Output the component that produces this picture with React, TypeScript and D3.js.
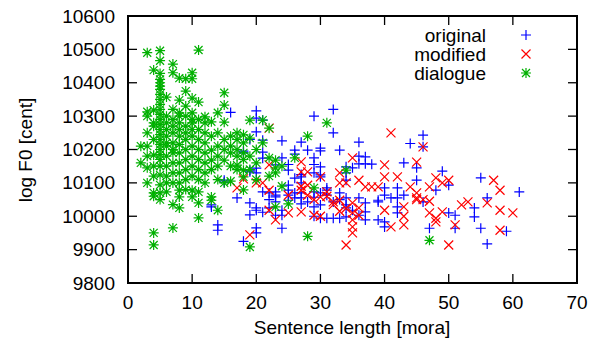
import React from "react";
import * as d3 from "d3";

const xTicks = [0, 10, 20, 30, 40, 50, 60, 70];
const yTicks = [9800, 9900, 10000, 10100, 10200, 10300, 10400, 10500, 10600];
const seriesNames = ["original", "modified", "dialogue"];

const original: [number, number][] = [
  [13,10028],[13,10034],[14,9974],[14,9958],[15,10102],[15,10108],[16,10311],
  [17,10055],[18,10190],[18,10195],[18,9925],
  [19,10230],[19,10133],[19,10138],[19,10004],[19,10040],
  [20,10316],[20,10294],[20,10253],[20,10144],[20,10130],[20,10018],[20,10025],[20,9965],[20,9950],
  [21,10288],[21,10228],[21,10192],[21,10174],[21,10073],[21,10012],
  [22,10025],[22,10070],[22,10050],
  [23,10154],[23,10063],[23,10043],[23,10058],[23,10073],[23,10003],
  [24,10226],[24,10175],[24,10018],[24,9964],[24,10003],
  [25,10155],[25,10138],[25,10078],[25,10063],[25,10093],[25,10048],
  [26,10198],[26,10186],[26,10114],[26,10070],[26,10055],
  [27,10222],[27,10118],[27,10100],[27,10070],[27,10055],[27,10037],[27,10125],
  [28,10198],[28,10043],
  [29,10300],[29,10175],[29,10155],[29,10130],[29,10057],[29,10028],[29,10000],[29,10073],
  [30,10204],[30,10196],[30,10148],[30,10118],[30,10124],[30,10034],[30,9994],[30,10070],
  [31,10078],[31,10063],[31,9994],[31,10085],
  [32,10320],[32,10250],[32,10043],[32,9994],
  [33,10198],[33,9994],[33,10070],[33,10050],
  [34,10148],[34,10130],[34,10108],[34,10055],[34,10034],[34,10025],[34,9998],
  [35,10145],[35,10018],
  [36,10222],[36,10180],[36,10055],[36,10003],[36,10157],
  [37,10178],[37,10040],[37,10013],[37,9989],[37,10157],
  [38,10156],
  [39,10043],[39,9989],[39,10048],
  [40,10085],[40,10063],[40,9983],[40,9968],
  [41,10055],
  [42,10085],[42,10055],[42,10028],[42,10010],
  [43,10160],[43,10063],
  [44,10218],
  [45,10145],[45,10108],
  [46,10243],[46,10043],[46,10208],
  [47,9964],[48,10078],[49,10135],
  [50,10093],[50,10010],
  [51,10003],[51,9964],
  [54,10025],[54,9998],
  [55,10115],[55,9964],
  [56,10055],[56,9917],
  [59,9955],[61,10073],
];

const modified: [number, number][] = [
  [17,10085],[18,10112],[19,9944],[20,10100],[21,10100],
  [22,10264],[22,10154],[22,10078],[22,10018],[23,9989],
  [25,10063],[25,10010],
  [27,10163],[27,10133],[27,10078],[27,10013],[27,10090],
  [28,10133],[28,10063],[28,10093],
  [29,10003],[29,10050],
  [30,10118],[30,10058],[30,10000],
  [31,10073],[31,10060],
  [32,10043],[32,10035],
  [33,10130],[33,10100],[33,10048],[33,10015],
  [34,10100],[34,9914],[34,10024],
  [35,10175],[35,9989],[35,9968],[35,9950],[35,10040],[35,10010],
  [36,10108],[36,10003],[36,10025],
  [37,10088],[38,10088],[39,10088],
  [40,10154],[40,10118],[40,10018],
  [41,10250],[41,9968],
  [42,10118],
  [43,9974],[43,10000],[43,10028],
  [44,10088],
  [45,10162],[45,10070],[45,10055],[45,10050],
  [46,10208],[46,10050],
  [47,10088],[47,10010],[47,10045],
  [48,10115],[48,9994],[48,9983],
  [49,10100],[49,10013],
  [50,10108],[50,9914],
  [51,9974],[52,10034],[53,10043],[56,10040],[57,10108],
  [58,10078],[58,10018],[58,9958],
  [60,10010],
];

const dialogue: [number, number][] = [
  [2,10160],[2,10210],
  [3,10490],[3,10313],[3,10300],[3,10210],[3,10145],[3,10250],[3,10180],[3,10100],
  [4,10438],[4,10318],[4,10183],[4,10070],[4,10060],[4,9950],[4,9914],[4,10230],[4,10270],[4,10120],[4,10280],[4,10150],
  [5,10496],[5,10466],[5,10428],[5,10410],[5,10400],[5,10390],[5,10380],[5,10365],[5,10350],[5,10335],[5,10320],[5,10305],[5,10290],[5,10275],[5,10260],[5,10245],[5,10230],[5,10215],[5,10200],[5,10185],[5,10170],[5,10150],[5,10124],[5,10094],[5,10070],[5,10050],
  [6,10357],[6,10300],[6,10280],[6,10260],[6,10240],[6,10220],[6,10210],[6,10180],[6,10150],[6,10120],[6,10100],[6,10073],
  [7,10456],[7,10430],[7,10320],[7,10290],[7,10270],[7,10250],[7,10220],[7,10200],[7,10190],[7,10160],[7,10130],[7,10100],[7,10035],[7,9965],
  [8,10414],[8,10348],[8,10310],[8,10300],[8,10280],[8,10260],[8,10240],[8,10215],[8,10190],[8,10160],[8,10130],[8,10100],[8,10078],[8,10058],[8,10025],
  [9,10412],[9,10375],[9,10330],[9,10300],[9,10270],[9,10250],[9,10230],[9,10200],[9,10170],[9,10140],[9,10110],[9,10080],
  [10,10430],[10,10412],[10,10354],[10,10310],[10,10290],[10,10280],[10,10260],[10,10240],[10,10210],[10,10180],[10,10150],[10,10120],[10,10078],[10,10058],
  [11,10498],[11,10342],[11,10290],[11,10260],[11,10230],[11,10200],[11,10170],[11,10140],[11,10110],[11,10073],[11,10040],[11,9995],
  [12,10298],[12,10280],[12,10250],[12,10220],[12,10190],[12,10160],[12,10130],[12,10100],
  [13,10283],[13,10240],[13,10198],[13,10168],[13,10140],[13,10058],[13,10048],
  [14,10310],[14,10250],[14,10210],[14,10180],[14,10150],[14,10110],[14,10018],
  [15,10370],[15,10333],[15,10282],[15,10230],[15,10200],[15,10168],[15,10100],
  [16,10240],[16,10210],[16,10190],[16,10150],[16,10105],
  [17,10250],[17,10230],[17,10200],[17,10180],[17,10153],[17,10140],
  [18,10244],[18,10220],[18,10190],[18,10170],[18,10138],[18,10118],[18,10079],
  [19,10288],[19,10234],[19,10180],[19,10140],[19,9908],
  [20,10200],[20,10160],[20,10110],
  [21,10288],[21,10220],
  [22,10264],[22,10175],[22,10120],
  [23,10168],[23,10145],[23,10130],[23,10028],
  [24,10090],[24,10150],
  [25,10037],[26,10175],
  [28,10240],[28,9940],
  [29,10085],[31,10280],[34,10138],[47,9928],
];

const colors = ["#0000ff", "#ff0000", "#00b000"];
const markers = [
  "M-5,0H5M0,-5V5",
  "M-4.5,-4.5L4.5,4.5M-4.5,4.5L4.5,-4.5",
  "M-5,0H5M0,-5V5M-4,-4L4,4M-4,4L4,-4",
];

export default function App() {
  const W = 602, H = 347;
  const x = d3.scaleLinear().domain([0, 70]).range([128, 577]);
  const y = d3.scaleLinear().domain([9800, 10600]).range([283, 16]);
  const font = "'Liberation Sans', Arial, Helvetica, sans-serif";
  const fs = 19;
  const tl = 9;
  const all = [original, modified, dialogue];
  const [x0, x1] = x.range();
  const [y0, y1] = y.range();
  return (
    <svg width={W} height={H} style={{ position: "absolute", left: 0, top: 0, background: "#fff" }}
      fontFamily={font}>
      <rect x={0} y={0} width={W} height={H} fill="#fff" />
      {all.map((data, si) => (
        <g key={si} stroke={colors[si]} strokeWidth={1.2} fill="none">
          {data.map((d, i) => (
            <path key={i} d={markers[si]} transform={`translate(${x(d[0])},${y(d[1])})`} />
          ))}
        </g>
      ))}
      <g stroke="#000" strokeWidth={1.3}>
        {xTicks.map((t) => (
          <g key={"x" + t}>
            <line x1={x(t)} x2={x(t)} y1={y0} y2={y0 - tl} />
            <line x1={x(t)} x2={x(t)} y1={y1} y2={y1 + tl} />
          </g>
        ))}
        {yTicks.map((t) => (
          <g key={"y" + t}>
            <line x1={x0} x2={x0 + tl} y1={y(t)} y2={y(t)} />
            <line x1={x1} x2={x1 - tl} y1={y(t)} y2={y(t)} />
          </g>
        ))}
      </g>
      <rect x={x0} y={y1} width={x1 - x0} height={y0 - y1} fill="none" stroke="#000" strokeWidth={2} />
      <g fontSize={fs} fill="#000">
        {xTicks.map((t) => (
          <text key={"xl" + t} x={x(t)} y={309} textAnchor="middle">{t}</text>
        ))}
        {yTicks.map((t) => (
          <text key={"yl" + t} x={115} y={y(t) + 6.5} textAnchor="end">{t}</text>
        ))}
        <text x={352} y={334} textAnchor="middle">Sentence length [mora]</text>
        <text transform={`translate(32,150) rotate(-90)`} textAnchor="middle">log F0 [cent]</text>
      </g>
      <g fontSize={fs}>
        {seriesNames.map((n, i) => (
          <g key={n}>
            <text x={486} y={35 + i * 19 + 6.5} textAnchor="end" fill="#000">{n}</text>
            <path d={markers[i]} transform={`translate(526,${35 + i * 19})`} stroke={colors[i]} strokeWidth={1.2} fill="none" />
          </g>
        ))}
      </g>
    </svg>
  );
}
